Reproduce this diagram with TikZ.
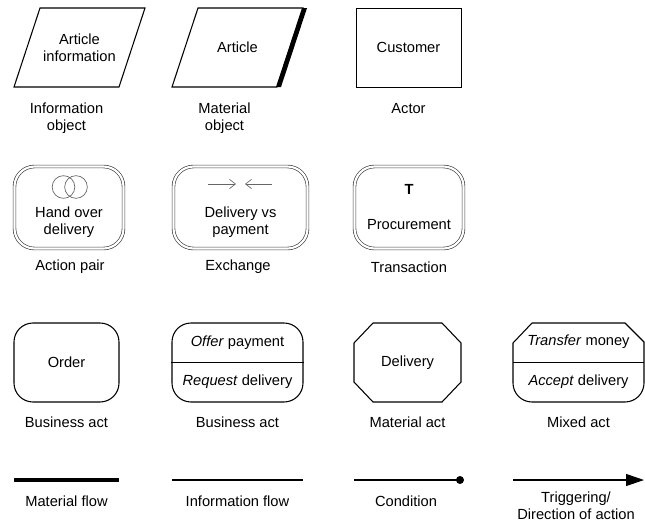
\documentclass[tikz,border=0pt]{standalone}
\usepackage{fontspec}
\setmainfont{Liberation Sans}
\usetikzlibrary{arrows.meta}

\begin{document}
\begin{tikzpicture}[x=0.75pt,y=-0.75pt,line width=0.8pt,
    txt/.style={align=center,font=\fontsize{11}{13}\selectfont,inner sep=0pt},
    actor/.style={draw,txt,minimum width=78.75pt,minimum height=59.25pt},
    actbox/.style={actor,rounded corners=14.25pt},
    dbl/.style={draw=black!75,line width=0.5pt,double,double distance=1.6pt,
      rounded corners=15pt,minimum height=61.5pt,inner sep=0pt},
    thinarrow/.style={black!60,line width=0.5pt,-{Straight Barb[length=4.5pt,width=7pt]}}]
  \useasboundingbox (0,0) rectangle (645,522);
  % objects and actor
  \draw (40,8) -- (145,8) -- (119,87) -- (14,87) -- cycle;
  \node[txt] (info) at (79.5,47.5) {Article\\information};
  \node[txt] (infolbl) at (66.5,118.5) {Information\\object};
  \draw (198,8) -- (303,8) -- (277,87) -- (172,87) -- cycle;
  \fill (302,8) -- (307,8) -- (281,87) -- (276,87) -- cycle;
  \node[txt] (mat) at (237.5,47.5) {Article};
  \node[txt] (matlbl) at (224.5,118.5) {Material\\object};
  \node[actor,line width=0.7pt] (cust) at (408.5,47.5) {Customer};
  \node[txt] (custlbl) at (408.5,109) {Actor};
  % pair, exchange, transaction
  \node[dbl,minimum width=81.75pt] (pair) at (69,207.5) {};
  \draw[black!60,line width=0.5pt] (63.5,187) circle[radius=8.5pt];
  \draw[black!60,line width=0.5pt] (76,187) circle[radius=8.5pt];
  \node[txt] (pairtxt) at (69,222) {Hand over\\delivery};
  \node[txt] (pairlbl) at (70,267) {Action pair};
  \node[dbl,minimum width=100.5pt] (exch) at (240.5,207.5) {};
  \coordinate (r1) at (208,184);
  \coordinate (r2) at (236,184);
  \coordinate (l1) at (272,184);
  \coordinate (l2) at (245,184);
  \draw[thinarrow] (r1) -- (r2);
  \draw[thinarrow] (l1) -- (l2);
  \node[txt] (exchtxt) at (240.5,222) {Delivery vs\\payment};
  \node[txt] (exchlbl) at (238,267) {Exchange};
  \node[dbl,minimum width=81.75pt] (trans) at (409,207.5) {};
  \node[txt,font=\fontsize{11}{13}\selectfont\bfseries] (T) at (409,189) {T};
  \node[txt] (transtxt) at (409,225) {Procurement};
  \node[txt] (translbl) at (409,267) {Transaction};
  % acts
  \node[actbox] (order) at (66.5,362.5) {Order};
  \node[txt] (orderlbl) at (66.5,422) {Business act};
  \node[actbox,minimum width=98.25pt] (offer) at (237.5,362.5) {};
  \draw (offer.west) -- (offer.east);
  \node[txt] (offertxt) at (237.5,343) {\textit{Offer} payment};
  \node[txt] (reqtxt) at (237.5,382) {\textit{Request} delivery};
  \node[txt] (offerlbl) at (237.5,422) {Business act};
  \draw (373,323) -- (442,323) -- (461,343) -- (461,382) -- (442,402)
    -- (373,402) -- (354,382) -- (354,343) -- cycle;
  \node[txt] (deliv) at (407.5,362.5) {Delivery};
  \node[txt] (delivlbl) at (407.5,422) {Material act};
  \draw (513,343) -- (532,323) -- (625,323) -- (644,342)
    [rounded corners=14.25pt] -- (644,402) -- (513,402) [sharp corners] -- cycle;
  \draw (513,362.5) -- (644,362.5);
  \node[txt] (transf) at (578.5,342) {\textit{Transfer} money};
  \node[txt] (accept) at (578.5,382) {\textit{Accept} delivery};
  \node[txt] (mixlbl) at (578.5,422) {Mixed act};
  % flows
  \coordinate (m1) at (14,480);
  \coordinate (m2) at (119,480);
  \draw[line width=3pt] (m1) -- (m2);
  \node[txt] (mlbl) at (66.5,501) {Material flow};
  \coordinate (i1) at (172,480);
  \coordinate (i2) at (303,480);
  \draw (i1) -- (i2);
  \node[txt] (ilbl) at (237.5,501) {Information flow};
  \coordinate (c1) at (354,480);
  \coordinate (c2) at (460,480);
  \draw (c1) -- (c2);
  \fill (c2) circle[radius=3pt];
  \node[txt] (clbl) at (406,501) {Condition};
  \coordinate (t1) at (513,480);
  \coordinate (t2) at (644,480);
  \draw[-{Triangle[length=13.5pt,width=9pt]}] (t1) -- (t2);
  \node[txt] (tlbl) at (576,506) {Triggering/\\Direction of action};
\end{tikzpicture}
\end{document}
